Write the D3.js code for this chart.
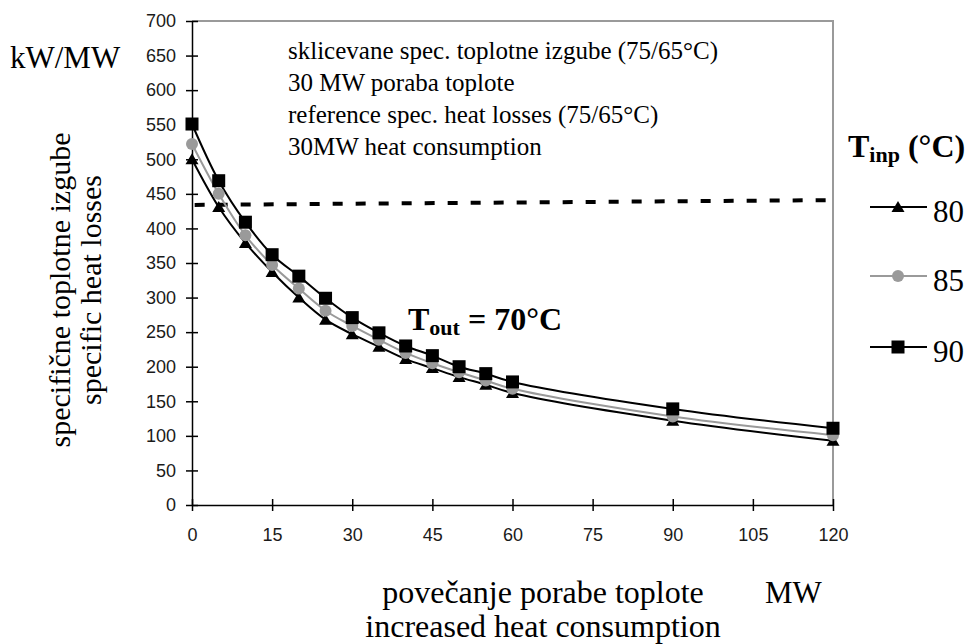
<!DOCTYPE html>
<html>
<head>
<meta charset="utf-8">
<script src="https://cdn.jsdelivr.net/npm/d3@7/dist/d3.min.js"></script>
<style>
body { margin: 0; background: #fff; }
</style>
</head>
<body>
<div id="contenedor"></div>
<script>
const ANCHO = 966;
const ALTO = 644;
const IZQ = 192, DER = 833, ARRIBA = 21, ABAJO = 505;
const SERIF = "'Liberation Serif', 'Times New Roman', serif";
const SANS = "'Liberation Sans', Arial, sans-serif";

// podatki
const porabaMW = [0, 5, 10, 15, 20, 25, 30, 35, 40, 45, 50, 55, 60, 90, 120];
const izgube80 = [500, 431, 379, 337, 300, 268, 247, 229, 211, 198, 185, 174, 162, 122, 93];
const izgube85 = [522, 450, 390, 347, 313, 281, 259, 239, 220, 205, 192, 180, 168, 128, 101];
const izgube90 = [551, 469, 409, 362, 331, 299, 271, 249, 230, 216, 200, 190, 178, 139, 111];
const referencaX = [0.5, 120];
const referencaY = [434, 441];
const tickiX = [0, 15, 30, 45, 60, 75, 90, 105, 120];
const tickiY = [0, 50, 100, 150, 200, 250, 300, 350, 400, 450, 500, 550, 600, 650, 700];
const serije = [
    {ime: "80", vrednosti: izgube80, barva: "#000000", oznaka: "triangle"},
    {ime: "85", vrednosti: izgube85, barva: "#9a9a9a", oznaka: "circle"},
    {ime: "90", vrednosti: izgube90, barva: "#000000", oznaka: "square"},
];
const opombe = [
    "sklicevane spec. toplotne izgube (75/65°C)",
    "30 MW poraba toplote",
    "reference spec. heat losses (75/65°C)",
    "30MW heat consumption",
];

const x = d3.scaleLinear().domain([0, 120]).range([IZQ, DER]);
const y = d3.scaleLinear().domain([0, 700]).range([ABAJO, ARRIBA]);

const $svg = d3.select("#contenedor")
    .append("svg")
    .attr("width", ANCHO)
    .attr("height", ALTO)
    .style("font-family", SERIF);

// okvir (zgoraj in desno sivo)
$svg.append("path")
    .attr("d", `M${IZQ},${ARRIBA}H${DER}V${ABAJO}`)
    .attr("fill", "none")
    .attr("stroke", "#9a9a9a")
    .attr("stroke-width", 2);

const osY = $svg.append("g")
    .attr("transform", `translate(${IZQ},0)`)
    .call(d3.axisLeft(y).tickValues(tickiY).tickSize(6).tickSizeOuter(0).tickPadding(10));
osY.selectAll(".tick line").attr("x1", 6);

const osX = $svg.append("g")
    .attr("transform", `translate(0,${ABAJO})`)
    .call(d3.axisBottom(x).tickValues(tickiX).tickSize(6).tickSizeOuter(0).tickPadding(17));
osX.selectAll(".tick line").attr("y1", -6);

$svg.selectAll(".domain, .tick line").attr("stroke", "#000").attr("stroke-width", 1.5);
$svg.selectAll(".tick text")
    .style("font-family", SANS)
    .style("font-size", "18px")
    .attr("fill", "#1a1a1a");

// referencna crta
$svg.append("line")
    .attr("x1", x(referencaX[0]))
    .attr("y1", y(referencaY[0]))
    .attr("x2", x(referencaX[1]))
    .attr("y2", y(referencaY[1]))
    .attr("stroke", "#000")
    .attr("stroke-width", 4)
    .attr("stroke-dasharray", "10,13");

const crta = d3.line()
    .x((d, i) => x(porabaMW[i]))
    .y(d => y(d))
    .curve(d3.curveCatmullRom.alpha(0.5));

const narisiOznako = (g, tip, cx, cy, barva) => {
    if (tip === "triangle") {
        g.append("path")
            .attr("d", `M${cx},${cy - 6}L${cx + 6.5},${cy + 5}L${cx - 6.5},${cy + 5}Z`)
            .attr("fill", barva);
    } else if (tip === "circle") {
        g.append("circle").attr("cx", cx).attr("cy", cy).attr("r", 6).attr("fill", barva);
    } else {
        g.append("rect").attr("x", cx - 6.5).attr("y", cy - 6.5)
            .attr("width", 13).attr("height", 13).attr("fill", barva);
    }
};

for (const s of serije) {
    $svg.append("path")
        .attr("d", crta(s.vrednosti))
        .attr("fill", "none")
        .attr("stroke", s.barva)
        .attr("stroke-width", 2);
}
for (const s of serije) {
    const g = $svg.append("g");
    s.vrednosti.forEach((v, i) => narisiOznako(g, s.oznaka, x(porabaMW[i]), y(v), s.barva));
}

// besedilo
opombe.forEach((t, i) => {
    $svg.append("text")
        .attr("x", 288)
        .attr("y", 59 + i * 32)
        .style("font-size", "25px")
        .text(t);
});

const tout = $svg.append("text")
    .attr("x", 408)
    .attr("y", 330)
    .style("font-size", "32px")
    .style("font-weight", "bold");
tout.append("tspan").text("T");
tout.append("tspan").attr("dy", 5).style("font-size", "22px").text("out");
tout.append("tspan").attr("dy", -5).text(" = 70°C");

$svg.append("text").attr("x", 10).attr("y", 68).style("font-size", "31px").text("kW/MW");

const naslovY = $svg.append("text")
    .attr("transform", "translate(0,290) rotate(-90)")
    .attr("text-anchor", "middle")
    .style("font-size", "30px");
naslovY.append("tspan").attr("x", 0).attr("y", 70).text("specifične toplotne izgube");
naslovY.append("tspan").attr("x", 0).attr("y", 101).text("specific heat losses");

$svg.append("text").attr("x", 543).attr("y", 603).attr("text-anchor", "middle")
    .style("font-size", "32px").text("povečanje porabe toplote");
$svg.append("text").attr("x", 543).attr("y", 637).attr("text-anchor", "middle")
    .style("font-size", "32px").text("increased heat consumption");
$svg.append("text").attr("x", 765).attr("y", 603).style("font-size", "31px").text("MW");

// legenda
const naslovLeg = $svg.append("text")
    .attr("x", 848)
    .attr("y", 157)
    .style("font-size", "32px")
    .style("font-weight", "bold");
naslovLeg.append("tspan").text("T");
naslovLeg.append("tspan").attr("dy", 5).style("font-size", "22px").text("inp");
naslovLeg.append("tspan").attr("dy", -5).text(" (°C)");

const legendaY = [207, 276, 347];
serije.forEach((s, i) => {
    const g = $svg.append("g");
    g.append("line")
        .attr("x1", 870).attr("x2", 927)
        .attr("y1", legendaY[i]).attr("y2", legendaY[i])
        .attr("stroke", s.barva).attr("stroke-width", 2);
    narisiOznako(g, s.oznaka, 898, legendaY[i], s.barva);
    g.append("text")
        .attr("x", 933)
        .attr("y", legendaY[i] + 15)
        .style("font-size", "31px")
        .text(s.ime);
});
</script>
</body>
</html>
